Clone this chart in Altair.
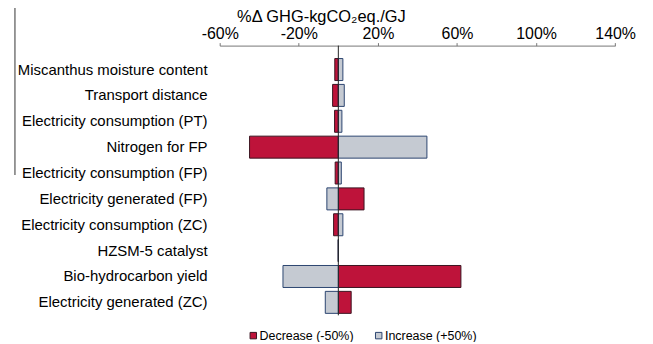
import altair as alt
import pandas as pd

categories = [
    "Miscanthus moisture content",
    "Transport distance",
    "Electricity consumption (PT)",
    "Nitrogen for FP",
    "Electricity consumption (FP)",
    "Electricity generated (FP)",
    "Electricity consumption (ZC)",
    "HZSM-5 catalyst",
    "Bio-hydrocarbon yield",
    "Electricity generated (ZC)",
]
decrease = [-1.8, -2.9, -1.9, -44.9, -1.6, 13.0, -2.4, 0.0, 62.0, 6.5]
increase = [2.3, 3.0, 1.8, 44.8, 1.5, -5.8, 2.3, 0.0, -28.0, -6.6]
series = ["Decrease (-50%)", "Increase (+50%)"]
tick_values = list(range(-60, 141, 20))

rows = []
for c, d, i in zip(categories, decrease, increase):
    rows.append({"cat": c, "type": series[0], "value": d})
    rows.append({"cat": c, "type": series[1], "value": i})
df = pd.DataFrame(rows)

FONT = "Liberation Sans"

xscale = alt.Scale(domain=[-60, 140], nice=False, zero=False)
yscale = alt.Scale(domain=categories, paddingInner=0.15, paddingOuter=0.5)

legend_kw = dict(
    title=None,
    orient="none",
    direction="horizontal",
    legendX=27.5,
    legendY=285,
    symbolType="square",
    symbolSize=42,
    symbolStrokeWidth=1,
    labelFont=FONT,
    labelFontSize=12.5,
    labelColor="#000000",
    labelOffset=0,
    columnPadding=19,
    padding=0,
)

bars = alt.Chart(df).mark_bar(strokeWidth=1).encode(
    x=alt.X(
        "value:Q",
        scale=xscale,
        axis=alt.Axis(
            orient="top",
            values=tick_values,
            labelExpr="((datum.value + 60) % 40 == 0) ? datum.value + '%' : ''",
            labelFlush=False,
            labelOverlap=False,
            grid=False,
            tickSize=3,
            tickColor="#777777",
            domainColor="#777777",
            labelFontSize=16,
            labelFont=FONT,
            labelColor="#000000",
            labelPadding=1,
            title="%Δ GHG-kgCO₂eq./GJ",
            titleFont=FONT,
            titleFontSize=16.5,
            titleFontWeight="normal",
            titleColor="#000000",
            titleX=17,
            titleY=-24,
            titleAlign="left",
            titleBaseline="alphabetic",
        ),
    ),
    y=alt.Y(
        "cat:N",
        sort=categories,
        scale=yscale,
        axis=alt.Axis(
            title=None,
            domain=False,
            ticks=False,
            labelFont=FONT,
            labelFontSize=15,
            labelColor="#000000",
            labelPadding=12.7,
            labelLimit=400,
        ),
    ),
    fill=alt.Fill(
        "type:N",
        scale=alt.Scale(domain=series, range=["#BE133A", "#C5CAD2"]),
        legend=alt.Legend(**legend_kw),
    ),
    stroke=alt.Stroke(
        "type:N",
        scale=alt.Scale(domain=series, range=["#3A1420", "#2B4570"]),
        legend=alt.Legend(**legend_kw),
    ),
)

zero_df = pd.DataFrame({"x": [0]})
zero_line = alt.Chart(zero_df).mark_rule(color="#222222", strokeWidth=1).encode(
    x=alt.X("x:Q", scale=xscale),
    y=alt.value(0),
    y2=alt.value(271),
)

left_line = alt.Chart(zero_df).mark_rule(color="#333333", strokeWidth=1).encode(
    x=alt.value(-205.7),
    y=alt.value(-45),
    y2=alt.value(130),
)

chart = (
    alt.layer(bars, zero_line, left_line)
    .properties(
        width=397.3,
        height=282,
        autosize=alt.AutoSizeParams(type="none"),
        padding={"left": 212.7, "top": 37, "right": 30, "bottom": 15},
    )
    .configure_view(stroke=None)
)

chart.save("out.html", embed_options={"renderer": "svg", "actions": False})
